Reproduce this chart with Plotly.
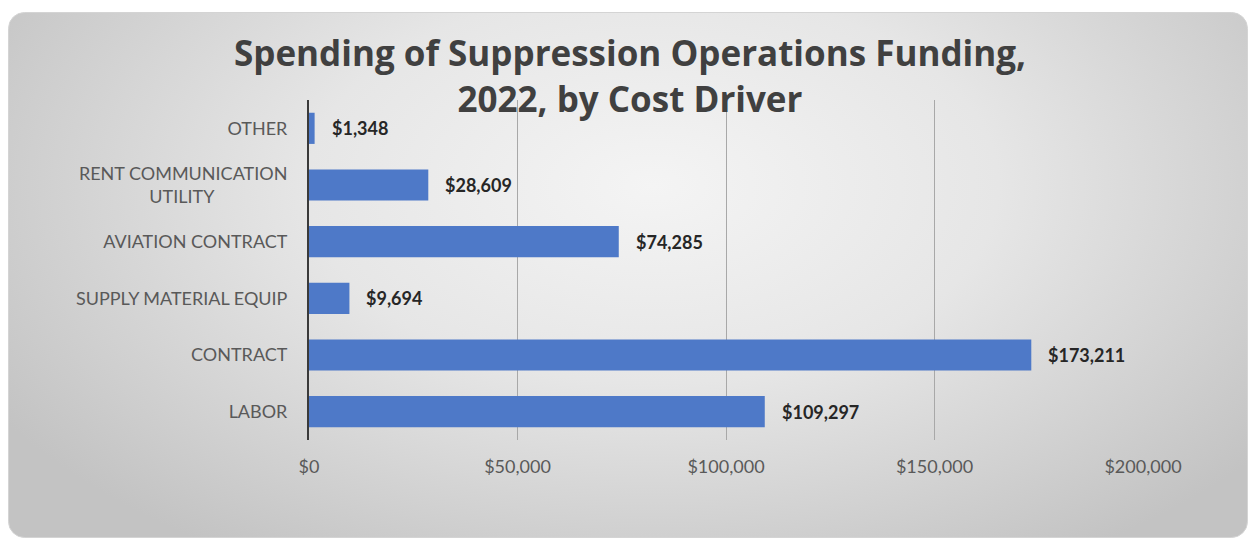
import base64
import plotly.graph_objects as go

# ---- data ----
categories = ["OTHER", "RENT COMMUNICATION UTILITY", "AVIATION CONTRACT",
              "SUPPLY MATERIAL EQUIP", "CONTRACT", "LABOR"]
tick_labels = ["OTHER",
               "RENT COMMUNICATION<br>UTILITY" + "\u00a0" * 16,
               "AVIATION CONTRACT", "SUPPLY MATERIAL EQUIP", "CONTRACT", "LABOR"]
spending = [1348, 28609, 74285, 9694, 173211, 109297]
x_ticks = [0, 50000, 100000, 150000, 200000]
x_tick_labels = ["$0", "$50,000", "$100,000", "$150,000", "$200,000"]
title_text = "Spending of Suppression Operations Funding,<br>2022, by Cost Driver"

W, H = 1250, 541
ML, MR, MT, MB = 309, 107, 100, 101
PW, PH = W - ML - MR, H - MT - MB

svg = f'''<svg xmlns="http://www.w3.org/2000/svg" width="{W}" height="{H}" viewBox="0 0 {W} {H}">
<defs><radialGradient id="g" cx="0.52" cy="0.33" r="0.62" gradientTransform="translate(0.52 0.33) scale(1 1.35) translate(-0.52 -0.33)">
<stop offset="0" stop-color="#f4f4f4"/><stop offset="0.45" stop-color="#e6e6e6"/><stop offset="1" stop-color="#c3c3c3"/></radialGradient></defs>
<rect x="0" y="0" width="{W}" height="{H}" fill="#ffffff"/>
<rect x="8.5" y="12.5" width="1239" height="525" rx="16" fill="url(#g)" stroke="#d4d4d4" stroke-width="1"/>
</svg>'''
src = "data:image/svg+xml;base64," + base64.b64encode(svg.encode()).decode()

fig = go.Figure()
fig.add_trace(go.Bar(
    x=spending, y=categories, orientation="h",
    marker=dict(color="#4e79c8", line=dict(width=0)),
    hoverinfo="skip",
))

for cat, val in zip(categories, spending):
    fig.add_annotation(x=val, y=cat, xref="x", yref="y", text=f"${val:,}",
                       showarrow=False, xanchor="left", xshift=15,
                       font=dict(family="Lato", size=18, color="#262626", weight="bold"))

fig.update_layout(
    width=W, height=H,
    margin=dict(l=ML, r=MR, t=MT, b=MB, pad=0),
    paper_bgcolor="#ffffff",
    plot_bgcolor="rgba(0,0,0,0)",
    bargap=0.45,
    showlegend=False,
    title=dict(text=title_text, x=0.504, xref="container", xanchor="center",
               y=1 - 66 / H, yref="container", yanchor="top",
               font=dict(family="Open Sans", size=35, color="#404040", weight="bold")),
    font=dict(family="Lato", size=18, color="#595959"),
    images=[dict(source=src, xref="paper", yref="paper",
                 x=-ML / PW, y=1 + MT / PH, sizex=W / PW, sizey=H / PH,
                 xanchor="left", yanchor="top", sizing="stretch", layer="below")],
)

fig.update_xaxes(range=[0, 200000], tickvals=x_ticks, ticktext=x_tick_labels,
                 showgrid=True, gridcolor="#a8a8a8", gridwidth=1,
                 zeroline=False, showline=False, ticks="",
                 ticklabelstandoff=14,
                 tickfont=dict(family="Lato", size=18, color="#595959"))
fig.update_yaxes(categoryorder="array", categoryarray=categories,
                 tickvals=categories, ticktext=tick_labels,
                 autorange="reversed", showgrid=False, zeroline=False,
                 showline=True, linecolor="#3a3a3a", linewidth=2, ticks="",
                 ticklabelstandoff=16,
                 tickfont=dict(family="Lato", size=18, color="#595959"))

fig.write_html("out.html")
